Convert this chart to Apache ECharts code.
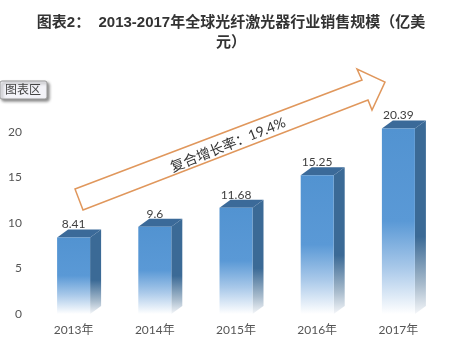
<!DOCTYPE html>
<html>
<head>
<meta charset="utf-8">
<style>
	html, body { margin: 0; padding: 0; background: #fff; }
	#main { width: 456px; height: 351px; }
</style>
<script src="https://cdn.jsdelivr.net/npm/echarts@6/dist/echarts.min.js"></script>
</head>
<body>
<div id="main"></div>
<script>
	const titleText = "图表2：  2013-2017年全球光纤激光器行业销售规模（亿美\n元）";
	const categories = ["2013年", "2014年", "2015年", "2016年", "2017年"];
	const sales = [8.41, 9.6, 11.68, 15.25, 20.39];
	const salesLabels = ["8.41", "9.6", "11.68", "15.25", "20.39"];
	const yTicks = [0, 5, 10, 15, 20];
	const growthText = "复合增长率：19.4%";
	const font = 'Lato, "Noto Sans CJK SC", sans-serif';
	const titleFont = '"Liberation Sans", "Noto Sans CJK SC", sans-serif';

	let myChart = echarts.init(document.getElementById("main"));

	// 3d look: front face + top + side, bottom half fades out to white
	function renderBar(params, api) {
		let x = api.coord([api.value(0), 0])[0];
		let yTop = api.coord([0, api.value(1)])[1];
		let yBase = api.coord([0, 0])[1];
		let w = 33, dx = 11, dy = 8;
		let left = x - w / 2, right = x + w / 2;
		return {
			type: "group",
			children: [
				{
					type: "polygon",
					shape: { points: [[right, yTop], [right + dx, yTop - dy], [right + dx, yBase - dy], [right, yBase]] },
					style: {
						fill: new echarts.graphic.LinearGradient(0, 0, 0, 1, [
							{ offset: 0, color: "#3b6a96" },
							{ offset: 0.6, color: "#3b6a96" },
							{ offset: 0.85, color: "#a9bccd" },
							{ offset: 1, color: "#f4f6f9" },
						]),
					},
				},
				{
					type: "polygon",
					shape: { points: [[left, yTop], [left + dx, yTop - dy], [right + dx, yTop - dy], [right, yTop]] },
					style: { fill: "#3b6a99" },
				},
				{
					type: "rect",
					shape: { x: left, y: yTop, width: w, height: yBase - yTop },
					style: {
						fill: new echarts.graphic.LinearGradient(0, 0, 0, 1, [
							{ offset: 0, color: "#5293d1" },
							{ offset: 0.5, color: "#5a99d6" },
							{ offset: 0.75, color: "#a8c8e9" },
							{ offset: 1, color: "#ffffff" },
						]),
					},
				},
				{
					type: "text",
					style: {
						text: salesLabels[params.dataIndex],
						x: x,
						y: yTop - 7,
						align: "center",
						verticalAlign: "bottom",
						font: "12px " + font,
						fill: "#404040",
					},
				},
			],
		};
	}

	let option = {
		backgroundColor: "#ffffff",
		animation: false,
		title: {
			text: titleText,
			left: 226,
			top: 8,
			textAlign: "center",
			textStyle: { fontSize: 15, fontWeight: "bold", color: "#333333", fontFamily: titleFont, lineHeight: 20, align: "center" },
		},
		grid: { left: 33, right: 17, top: 132, bottom: 37 },
		xAxis: {
			type: "category",
			data: categories,
			axisLine: { show: false },
			axisTick: { show: false },
			axisLabel: { color: "#555555", fontSize: 12, fontFamily: font, margin: 10 },
		},
		yAxis: {
			type: "value",
			min: yTicks[0],
			max: yTicks[yTicks.length - 1],
			interval: 5,
			splitLine: { show: false },
			axisLine: { show: false },
			axisTick: { show: false },
			axisLabel: { color: "#555555", fontSize: 12, fontFamily: font, margin: 11 },
		},
		series: [
			{
				type: "custom",
				renderItem: renderBar,
				encode: { x: 0, y: 1 },
				data: sales.map((v, i) => [i, v]),
				clip: false,
			},
		],
		graphic: [
			// growth arrow annotation
			{
				type: "polygon",
				shape: { points: [[75, 189], [362, 80], [357, 69], [385, 82], [372, 110], [368, 100], [83, 210]] },
				style: { fill: "rgba(255,255,255,0.6)", stroke: "#e0975c", lineWidth: 1.5 },
				z: 5,
			},
			{
				type: "text",
				x: 228,
				y: 145,
				rotation: 22 * Math.PI / 180,
				style: { text: growthText, align: "center", verticalAlign: "middle", font: "14px " + font, fill: "#333333" },
				z: 6,
			},
			// the "chart area" tooltip from the screenshot
			{
				type: "rect",
				shape: { x: 0, y: 81, width: 47, height: 18, r: 2 },
				style: { fill: "#f3f3f8", stroke: "#999999", lineWidth: 1, shadowBlur: 3, shadowOffsetX: 2, shadowOffsetY: 2, shadowColor: "rgba(0,0,0,0.45)" },
				z: 7,
			},
			{
				type: "text",
				x: 23,
				y: 90,
				style: { text: "图表区", align: "center", verticalAlign: "middle", font: "12px " + font, fill: "#444444" },
				z: 8,
			},
		],
	};
	myChart.setOption(option);
</script>
</body>
</html>
